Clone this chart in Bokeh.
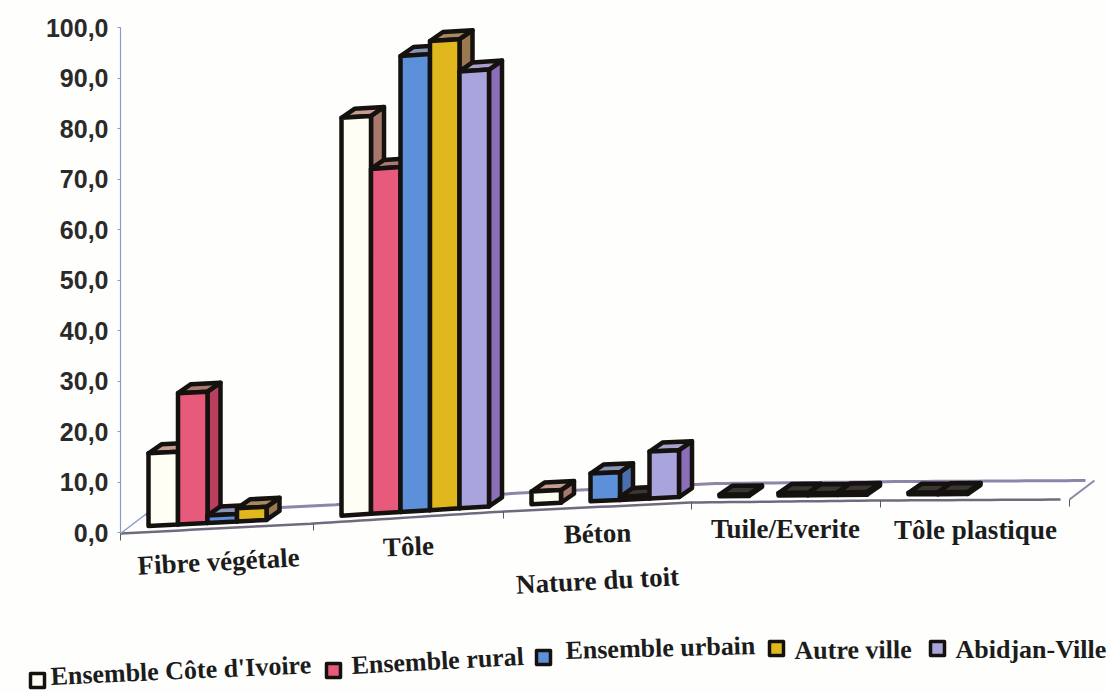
import numpy as np
from bokeh.plotting import figure
from bokeh.embed import file_html
from bokeh.resources import INLINE
from bokeh.core.properties import value
from bokeh.models import FixedTicker

categories = ["Fibre végétale", "Tôle", "Béton", "Tuile/Everite", "Tôle plastique"]
series_names = ["Ensemble Côte d'Ivoire", "Ensemble rural", "Ensemble urbain", "Autre ville", "Abidjan-Ville"]
cote_ivoire = [14.4, 78.8, 2.5, 0.3, 0.3]
rural = [26.0, 68.3, 0.0, 0.0, 0.4]
urbain = [1.5, 90.3, 5.5, 0.5, 0.0]
autre_ville = [2.6, 92.9, 0.6, 0.4, 0.0]
abidjan = [0.0, 86.5, 9.3, 0.5, 0.0]
all_series = [cote_ivoire, rural, urbain, autre_ville, abidjan]
y_ticks = [0, 10, 20, 30, 40, 50, 60, 70, 80, 90, 100]
y_labels = {t: f"{t},0" for t in y_ticks}

front_fill = ["#fffef4", "#e85a7c", "#5c90d8", "#e0b81e", "#a9a4dc"]
side_fill = ["#a8786c", "#b8405e", "#4a6fb0", "#9a7850", "#8a6fb8"]
top_fill = ["#c89c90", "#a87a72", "#8a94b6", "#a88a62", "#a6a2c8"]

W, H = 1107, 692
PX = 5.05       # pixels per percentage point
Y0 = 532        # picture y of value 0


def yv(page_y):
    return (Y0 - page_y) / PX


p = figure(width=W, height=H, x_range=(0, W), y_range=(yv(H), yv(0)),
           output_backend="svg", toolbar_location=None, min_border=0,
           background_fill_color="#fefefc", border_fill_color="#fefefc",
           x_axis_location=None, margin=(0, 0, -8, 0))
p.outline_line_color = None
p.grid.visible = False

# warped floor (the page is curved and skewed in the scan)
fx = [120, 313, 503, 691, 880, 1069]
fy = [533, 523, 511, 502, 500, 499]
DX, DY = 25, 19
x_dense = np.arange(120, 1070, 10.0)
y_front = np.interp(x_dense, fx, fy)
p.patch(list(x_dense) + list((x_dense + DX)[::-1]),
        [yv(v) for v in y_front] + [yv(v - DY) for v in y_front[::-1]],
        fill_color="#ffffff", line_color=None)
p.line(x_dense + DX, [yv(v - DY) for v in y_front], line_color="#8d86a8", line_width=3)
p.line(x_dense, [yv(v) for v in y_front], line_color="#6f6a7d", line_width=2.5)
p.line([1069, 1069 + DX], [yv(499), yv(499 - DY)], line_color="#8d86a8", line_width=2)
p.line([120, 120 + DX], [yv(533), yv(533 - DY)], line_color="#8d9ac8", line_width=1.5)
for x0, y0 in zip(fx, fy):
    p.line([x0, x0], [yv(y0), yv(y0 + 7)], line_color="#5a5a5a", line_width=1)

# 3-D bars
BAR = 29.5
FIRST = 28
dx, dy = 13, 9
xs, ys, fills = [], [], []
for c in range(len(categories)):
    for s, vals in enumerate(all_series):
        v = vals[c]
        if v <= 0:
            continue
        x1 = fx[c] + FIRST + s * BAR
        x2 = x1 + BAR
        b1 = yv(np.interp(x1, fx, fy) - 6)
        b2 = yv(np.interp(x2, fx, fy) - 6)
        t1, t2 = b1 + v, b2 + v
        d = dy / PX
        flat = v < 1
        xs.append([x2, x2 + dx, x2 + dx, x2]); ys.append([b2, b2 + d, t2 + d, t2])
        fills.append("#3a3632" if flat else side_fill[s])
        xs.append([x1, x1 + dx, x2 + dx, x2]); ys.append([t1, t1 + d, t2 + d, t2])
        fills.append("#3a3632" if flat else top_fill[s])
        xs.append([x1, x2, x2, x1]); ys.append([b1, b2, t2, t1])
        fills.append("#3a3632" if flat else front_fill[s])
p.patches(xs, ys, fill_color=fills, line_color="#15110f", line_width=4.5, line_join="round")

# y axis
ax = p.yaxis[0]
ax.fixed_location = 120
ax.bounds = (0, 100)
ax.ticker = FixedTicker(ticks=y_ticks)
ax.major_label_overrides = y_labels
ax.major_label_text_font = "Liberation Sans"
ax.major_label_text_font_style = "bold"
ax.major_label_text_font_size = "25px"
ax.major_label_text_color = "#2a2a2a"
ax.major_label_standoff = 9
ax.axis_line_color = "#8d9ac8"
ax.axis_line_width = 1.2
ax.major_tick_line_color = "#8d9ac8"
ax.major_tick_in = 0
ax.major_tick_out = 3
ax.minor_tick_line_color = None

# texts
SERIF = value("Liberation Serif")
cat_x = [218, 408, 597, 785, 975]
cat_y = [561, 546, 533, 528, 529]
cat_a = [3, 2, 1.5, 0, 0]
p.text(cat_x, [yv(v) for v in cat_y], text=categories, angle=np.radians(cat_a),
       text_font=SERIF, text_font_style="bold", text_font_size="27px",
       text_color="#1c1c1c", text_align="center", text_baseline="middle")
p.text([597], [yv(580)], text=["Nature du toit"], angle=[np.radians(3)],
       text_font=SERIF, text_font_style="bold", text_font_size="27px",
       text_color="#1c1c1c", text_align="center", text_baseline="middle")

mark_x = [37, 333, 543, 776, 937]
mark_y = [680, 670, 657, 648, 648]
leg_x = [50, 351, 565, 794, 955]
leg_y = [676, 665, 650, 650, 649]
leg_a = [2.6, 3, 1.5, 0.5, 0]
p.rect(mark_x, [yv(v) for v in mark_y], width=14, height=14, width_units="screen",
       height_units="screen", fill_color=front_fill, line_color="#15110f", line_width=3.5,
       line_join="round")
p.text(leg_x, [yv(v) for v in leg_y], text=series_names, angle=np.radians(leg_a),
       text_font=SERIF, text_font_style="bold", text_font_size="26px",
       text_color="#1c1c1c", text_align="left", text_baseline="middle")

open("out.html", "w").write(file_html(p, INLINE))
